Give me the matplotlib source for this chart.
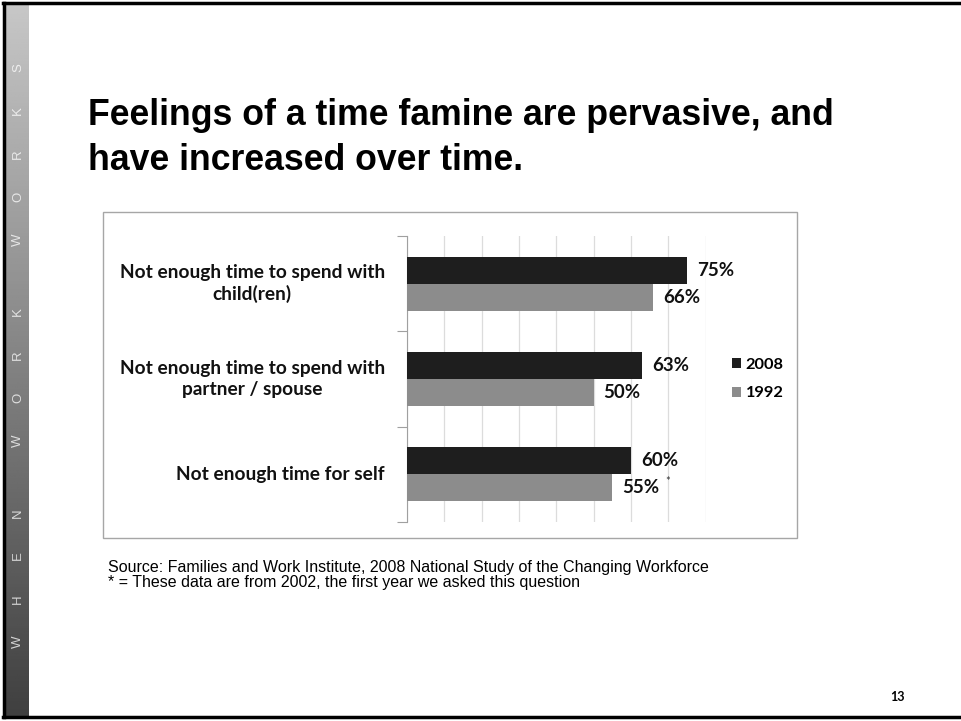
import matplotlib.pyplot as plt
import numpy as np
from matplotlib.patches import Rectangle
from matplotlib.lines import Line2D

# Data
categories = ["Not enough time to spend with\nchild(ren)",
              "Not enough time to spend with\npartner / spouse",
              "Not enough time for self"]
v2008 = [75, 63, 60]
v1992 = [66, 50, 55]
series_names = ["2008", "1992"]
title = "Feelings of a time famine are pervasive, and\nhave increased over time."
source = ("Source: Families and Work Institute, 2008 National Study of the Changing Workforce\n"
          "* = These data are from 2002, the first year we asked this question")
side_word = "WHEN WORK WORKS"

W, H = 961, 721
def fx(x): return x / W
def fy(y): return 1 - y / H

fig = plt.figure(figsize=(W / 100, H / 100), dpi=100)
fig.patch.set_facecolor("white")

# left gradient strip
strip = fig.add_axes([fx(6), fy(716), fx(29) - fx(6), fy(4) - fy(716)])
grad = np.linspace(0.78, 0.25, 256).reshape(-1, 1)
strip.imshow(grad, aspect="auto", cmap="gray", vmin=0, vmax=1, extent=[0, 1, 0, 1])
strip.set_axis_off()
letters = [c for c in side_word]
ypos = 68
step, gap = 43, 72
pos = []
for i, c in enumerate(reversed(letters)):
    if c == " ":
        continue
    pos.append((c, ypos))
    nxt = letters[::-1][i + 1] if i + 1 < len(letters) else None
    ypos += gap if nxt == " " else (step if nxt else 0)
for c, y in pos:
    fig.text(fx(18), fy(y), c, rotation=90, ha="center", va="center",
             color="white", alpha=0.75, fontsize=9.5, family="Liberation Sans")

# frame lines
fig.add_artist(Line2D([fx(3), 1], [fy(3), fy(3)], color="black", lw=2.5))
fig.add_artist(Line2D([fx(4), fx(4)], [fy(3), fy(717)], color="black", lw=2.5))
fig.add_artist(Line2D([fx(3), 1], [fy(717), fy(717)], color="black", lw=2.5))

# title
fig.text(fx(88), fy(138), title, ha="left", va="center", fontsize=25.7,
         fontweight="bold", family="Liberation Sans", linespacing=1.35)

# chart box
fig.add_artist(Rectangle((fx(103), fy(538)), fx(797) - fx(103), fy(212) - fy(538),
                         transform=fig.transFigure, facecolor="white",
                         edgecolor="#a6a6a6", lw=1, zorder=-1))

ax = fig.add_axes([fx(407), fy(522), fx(705.6) - fx(407), fy(236) - fy(522)])
ax.set_facecolor("none")
y = np.arange(len(categories))
bh = 0.283
b1 = ax.barh(y - bh / 2, v2008, height=bh, color="#1e1e1e", zorder=3)
b2 = ax.barh(y + bh / 2, v1992, height=bh, color="#8c8c8c", zorder=3)
ax.set_xlim(0, 80)
ax.set_ylim(2.5, -0.5)
ax.set_xticks(range(0, 81, 10))
ax.grid(axis="x", color="#dcdcdc", lw=0.9, zorder=0)
ax.tick_params(axis="x", length=0, labelbottom=False)
ax.set_yticks([-0.5, 0.5, 1.5, 2.5])
ax.tick_params(axis="y", length=7, color="#a0a0a0", labelleft=False)
for s in ["top", "right", "bottom"]:
    ax.spines[s].set_visible(False)
ax.spines["left"].set_color("#a0a0a0")

lab_font = dict(family="Lato", fontweight="bold", fontsize=13.8)
for i, c in enumerate(categories):
    ax.annotate(c, xy=(0, i), xycoords=("axes fraction", "data"),
                xytext=(-22, 0), textcoords="offset pixels", ha="right",
                va="center", multialignment="center", linespacing=1.25,
                color="#111111", **lab_font)

val_font = dict(family="Lato", fontweight="bold", fontsize=13.5)
for bars, vals in [(b1, v2008), (b2, v1992)]:
    for rect, v in zip(bars, vals):
        ax.annotate(f"{v}%", xy=(v, rect.get_y() + rect.get_height() / 2),
                    xytext=(10, 0), textcoords="offset pixels", ha="left",
                    va="center", color="#111111", **val_font)
# asterisk on 2002 value
ax.annotate("*", xy=(v1992[2], 2 + bh / 2), xytext=(53, 6),
            textcoords="offset pixels", ha="left", va="center",
            fontsize=8, color="#333333", family="Lato")

fig.legend([b1, b2], series_names, loc="center left",
           bbox_to_anchor=(fx(717), fy(379)), frameon=False,
           handlelength=0.55, handleheight=0.55, handletextpad=0.3,
           labelspacing=0.9, prop=dict(family="Lato", weight="bold", size=11.8))

fig.text(fx(108), fy(575), source, ha="left", va="center", fontsize=11.5,
         family="Liberation Sans", linespacing=1.0)
fig.text(fx(897), fy(697), "13", ha="center", va="center", fontsize=9,
         fontweight="bold", family="Lato")

fig.savefig("out.png", dpi=100)
